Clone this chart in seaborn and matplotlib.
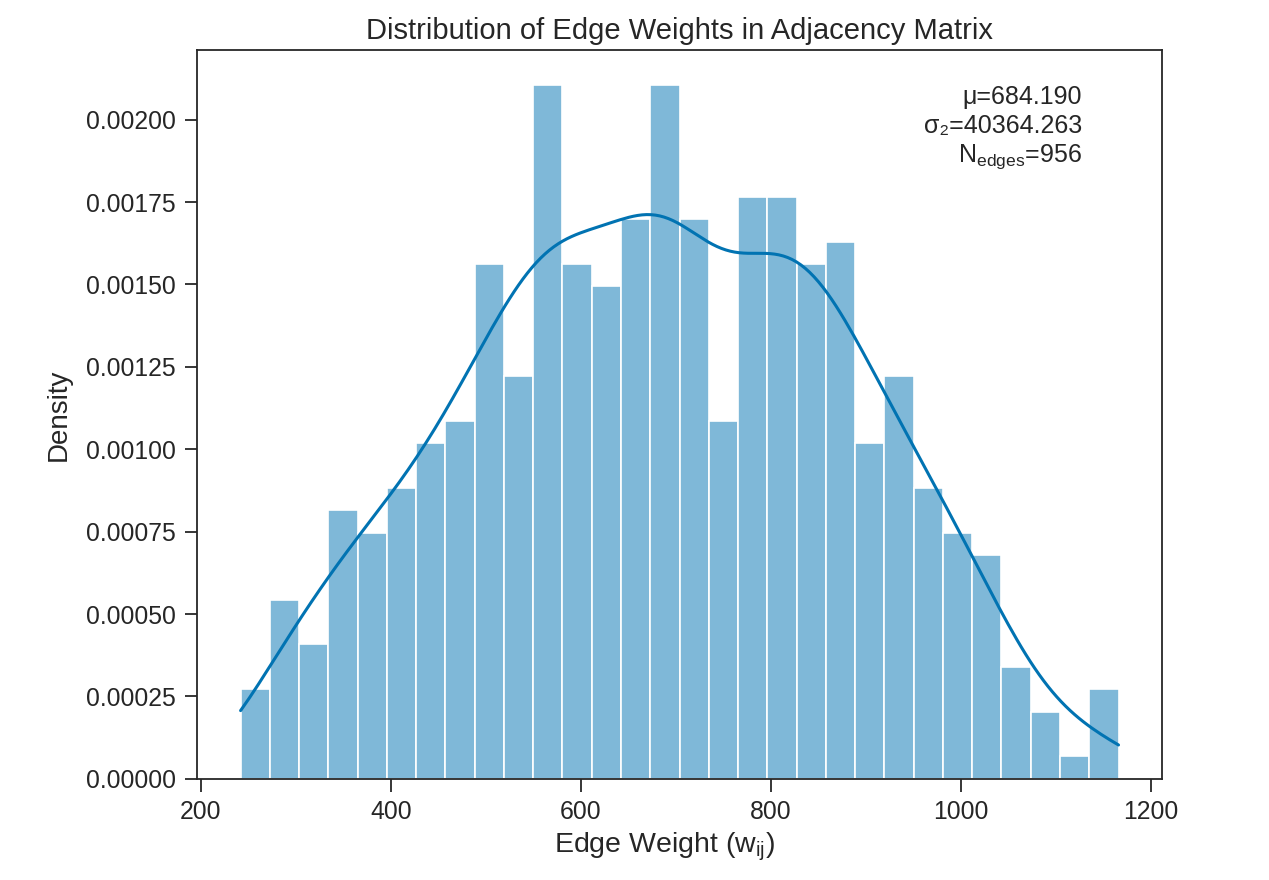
import numpy as np
import pandas as pd
import matplotlib
matplotlib.use("Agg")
import matplotlib.pyplot as plt
import seaborn as sns
from matplotlib.ticker import FormatStrFormatter

# ---- data ----
w_min = 242.0
w_max = 1166.0
n_bins = 30
bin_counts = [8, 16, 12, 24, 22, 26, 30, 32, 46, 36,
              62, 46, 44, 50, 62, 50, 32, 52, 52, 46,
              48, 30, 36, 26, 22, 20, 10, 6, 2, 8]
stat_lines = ["μ=684.190", "σ₂=40364.263", r"N$_{\mathregular{edges}}$=956"]
title = "Distribution of Edge Weights in Adjacency Matrix"
xlabel = r"Edge Weight (w$_{\mathregular{ij}}$)"
ylabel = "Density"
y_ticks = [0.0, 0.00025, 0.0005, 0.00075, 0.001, 0.00125, 0.0015, 0.00175, 0.002]

edges = np.linspace(w_min, w_max, n_bins + 1)
centers = (edges[:-1] + edges[1:]) / 2
df = pd.DataFrame({"weight": np.repeat(centers, bin_counts)})

sns.set_theme(style="ticks", palette="colorblind")
plt.rcParams["font.family"] = ["Liberation Sans", "DejaVu Sans"]
plt.rcParams["mathtext.default"] = "regular"

fig = plt.figure(figsize=(12.69, 8.8), dpi=100)
ax = fig.add_axes([0.155, 0.115, 0.761, 0.828])

sns.histplot(data=df, x="weight", bins=edges, stat="density", kde=True,
             color="#0173b2", alpha=0.5, edgecolor="white", linewidth=1.2,
             kde_kws={"cut": 3, "clip": (w_min, w_max)},
             line_kws={"linewidth": 2.2}, ax=ax)

ax.set_title(title, fontsize=21, pad=8)
ax.set_xlabel(xlabel, fontsize=20.5, labelpad=5)
ax.xaxis.label.set_x(0.484)
ax.set_ylabel(ylabel, fontsize=20, labelpad=10)
ax.set_yticks(y_ticks)
ax.yaxis.set_major_formatter(FormatStrFormatter("%.5f"))
ax.tick_params(axis="both", labelsize=17.8, length=9, width=1.3, pad=6)
for s in ax.spines.values():
    s.set_linewidth(1.3)

ax.text(0.917, 0.952, "\n".join(stat_lines), transform=ax.transAxes,
        ha="right", va="top", fontsize=18, linespacing=1.23)

fig.savefig("out.png", dpi=100)
